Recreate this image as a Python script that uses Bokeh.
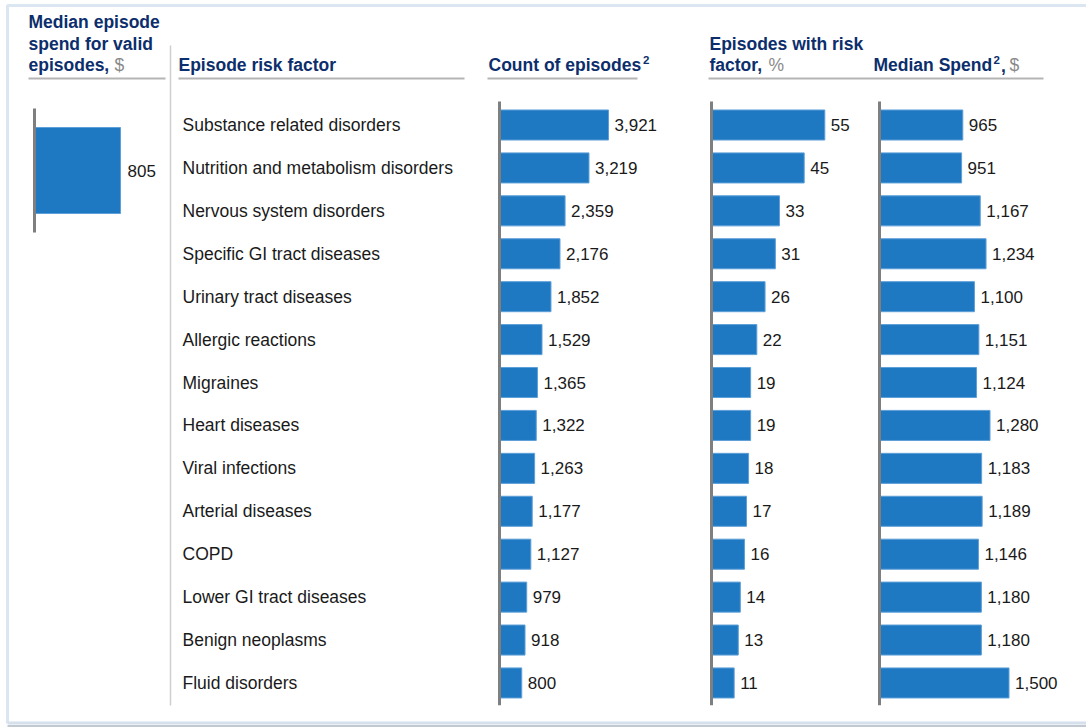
from bokeh.plotting import figure
from bokeh.models import Range1d, ColumnDataSource
from bokeh.core.properties import value
from bokeh.embed import file_html
from bokeh.resources import INLINE

# ---------------- data ----------------
risk_factors = ["Substance related disorders", "Nutrition and metabolism disorders",
                "Nervous system disorders", "Specific GI tract diseases",
                "Urinary tract diseases", "Allergic reactions", "Migraines",
                "Heart diseases", "Viral infections", "Arterial diseases", "COPD",
                "Lower GI tract diseases", "Benign neoplasms", "Fluid disorders"]
episode_counts = [3921, 3219, 2359, 2176, 1852, 1529, 1365, 1322, 1263, 1177, 1127, 979, 918, 800]
risk_pct = [55, 45, 33, 31, 26, 22, 19, 19, 18, 17, 16, 14, 13, 11]
median_spend = [965, 951, 1167, 1234, 1100, 1151, 1124, 1280, 1183, 1189, 1146, 1180, 1180, 1500]
valid_spend = [805]

# ---------------- layout ----------------
W, H = 1086, 727
FONT = value("Liberation Sans")
NAVY = "#0c2e6c"
GREY_TXT = "#8a8a8a"
BAR = "#1f79c2"
BAR_EDGE = "#5d9fd8"
AXIS = "#7f7f7f"
RULE = "#b5b5b5"
FS = "17.5px"
FS_VAL = "17px"

p = figure(width=W, height=H, output_backend="svg", toolbar_location=None,
           x_range=Range1d(0, W), y_range=Range1d(H, 0),
           x_axis_location=None, y_axis_location=None, min_border=0,
           outline_line_color=None, background_fill_color="white")
p.xgrid.visible = False
p.ygrid.visible = False


def panel_range(origin_px, px_per_unit):
    return Range1d(start=-origin_px / px_per_unit, end=(W - origin_px) / px_per_unit)


def row_range(first_center_px, row_px):
    return Range1d(start=(H - first_center_px) / row_px, end=-first_center_px / row_px)


p.extra_x_ranges = {
    "valid": panel_range(34, 86 / 805),
    "count": panel_range(499, 109 / 3921),
    "pct": panel_range(711, 113.3 / 55),
    "spend": panel_range(879, 129.5 / 1500),
}
p.extra_y_ranges = {
    "rows": row_range(124.5, 42.92),
    "valid": row_range(170, 100),
}

src = ColumnDataSource(dict(
    row=list(range(len(risk_factors))),
    name=risk_factors,
    count=episode_counts,
    count_lbl=[f"{v:,}" for v in episode_counts],
    pct=risk_pct,
    pct_lbl=[str(v) for v in risk_pct],
    spend=median_spend,
    spend_lbl=[f"{v:,}" for v in median_spend],
))
vsrc = ColumnDataSource(dict(row=[0], v=valid_spend, lbl=[f"{v:,}" for v in valid_spend]))

# outer frame
p.line(x=[7, 7, W + 5], y=[H - 4, 5, 5], line_color="#dce6f2", line_width=3)
p.line(x=[7, W + 5], y=[722.5, 722.5], line_color="#d6e0ec", line_width=3)
p.line(x=[7, W + 5], y=[725.5, 725.5], line_color="#c3c9d1", line_width=2)

# separator
p.line(x=[170, 170], y=[45, 705], line_color="#cfcfcf", line_width=1.5)

# header rules
for x0, x1 in [(28, 165), (178, 464), (487, 637), (708, 1043)]:
    p.line(x=[x0, x1], y=[78, 78], line_color=RULE, line_width=2)

# headers
def htxt(x, y, t, color=NAVY, bold=True, size=FS, baseline="middle"):
    p.text(x=[x], y=[y], text=[t], text_font=FONT, text_font_size=size,
           text_font_style="bold" if bold else "normal", text_color=color,
           text_baseline=baseline, text_align="left")

L1, L2, L3 = 21.5, 43, 64.5
htxt(28, L1, "Median episode")
htxt(28, L2, "spend for valid")
htxt(28, L3, "episodes,")
htxt(114, L3, "$", GREY_TXT, bold=False)
htxt(178, L3, "Episode risk factor")
htxt(488, L3, "Count of episodes")
htxt(642.5, 55.5, "2", size="11.5px", baseline="top")
htxt(709, L2, "Episodes with risk")
htxt(709, L3, "factor,")
htxt(768, L3, "%", GREY_TXT, bold=False)
htxt(873, L3, "Median Spend")
htxt(993, 55.5, "2", size="11.5px", baseline="top")
htxt(1000.5, L3, ",")
htxt(1009, L3, "$", GREY_TXT, bold=False)

# category labels
p.text(x=182, y="row", text="name", source=src, y_range_name="rows",
       text_font=FONT, text_font_size=FS, text_color="#1a1a1a",
       text_baseline="middle", text_align="left")

# bars
for key, lbl in [("count", "count_lbl"), ("pct", "pct_lbl"), ("spend", "spend_lbl")]:
    p.hbar(y="row", left=0, right=key, height=0.70, source=src,
           x_range_name=key, y_range_name="rows",
           fill_color=BAR, line_color=BAR_EDGE, line_width=1)
    p.text(x=key, y="row", text=lbl, source=src, x_range_name=key, y_range_name="rows",
           x_offset=6, text_font=FONT, text_font_size=FS_VAL, text_color="#1a1a1a",
           text_baseline="middle", text_align="left")
    p.segment(x0=0, y0=-0.55, x1=0, y1=13.52, x_range_name=key, y_range_name="rows",
              line_color=AXIS, line_width=3)

# left panel: single bar
p.hbar(y="row", left=0, right="v", height=0.86, source=vsrc,
       x_range_name="valid", y_range_name="valid",
       fill_color=BAR, line_color=BAR_EDGE, line_width=1)
p.text(x="v", y="row", text="lbl", source=vsrc, x_range_name="valid", y_range_name="valid",
       x_offset=7, text_font=FONT, text_font_size=FS_VAL, text_color="#1a1a1a",
       text_baseline="middle", text_align="left")
p.segment(x0=0, y0=-0.62, x1=0, y1=0.62, x_range_name="valid", y_range_name="valid",
          line_color=AXIS, line_width=3)

open("out.html", "w").write(file_html(p, INLINE))
